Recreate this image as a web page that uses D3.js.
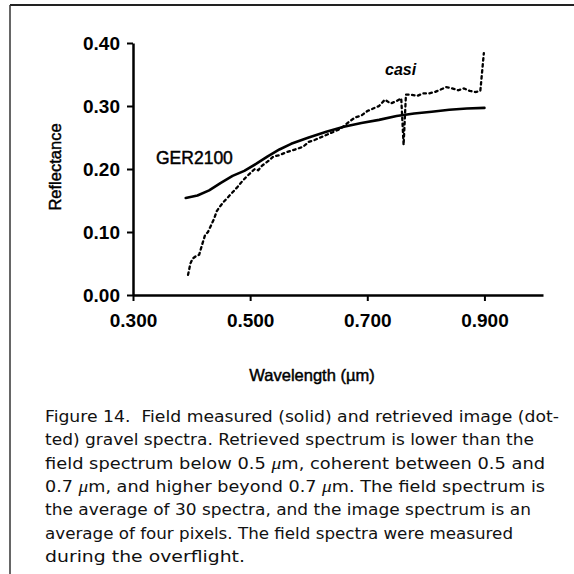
<!DOCTYPE html>
<html>
<head>
<meta charset="utf-8">
<script src="https://cdn.jsdelivr.net/npm/d3@7"></script>
<style>
  html, body { margin: 0; padding: 0; background: #fff; }
  svg { display: block; }
  text { white-space: pre; }
</style>
</head>
<body>
<svg id="chart" width="574" height="574"></svg>
<script>
// ---- Data ----
const gerWavelength = [0.390, 0.410, 0.430, 0.450, 0.470, 0.490, 0.510, 0.530, 0.550, 0.570, 0.600, 0.630, 0.660, 0.690, 0.720, 0.750, 0.780, 0.810, 0.840, 0.870, 0.900];
const gerReflectance = [0.154, 0.158, 0.166, 0.178, 0.189, 0.197, 0.208, 0.220, 0.231, 0.240, 0.250, 0.259, 0.267, 0.273, 0.278, 0.284, 0.288, 0.291, 0.294, 0.296, 0.297];

const casiWavelength = [0.394, 0.398, 0.402, 0.408, 0.413, 0.418, 0.423, 0.428, 0.433, 0.438, 0.443, 0.448, 0.455, 0.462, 0.470, 0.478, 0.486, 0.494, 0.502, 0.508, 0.514, 0.520, 0.530, 0.540, 0.550, 0.560, 0.570, 0.580, 0.590, 0.600, 0.610, 0.620, 0.630, 0.640, 0.650, 0.660, 0.670, 0.680, 0.690, 0.700, 0.710, 0.720, 0.730, 0.740, 0.750, 0.758, 0.762, 0.766, 0.775, 0.785, 0.795, 0.805, 0.815, 0.825, 0.835, 0.845, 0.855, 0.865, 0.875, 0.885, 0.893, 0.899];
const casiReflectance = [0.032, 0.050, 0.058, 0.062, 0.064, 0.080, 0.095, 0.100, 0.110, 0.120, 0.133, 0.140, 0.148, 0.155, 0.163, 0.171, 0.180, 0.188, 0.195, 0.200, 0.198, 0.205, 0.212, 0.220, 0.222, 0.226, 0.229, 0.232, 0.235, 0.243, 0.246, 0.250, 0.254, 0.258, 0.262, 0.268, 0.276, 0.282, 0.285, 0.292, 0.296, 0.300, 0.310, 0.304, 0.308, 0.312, 0.238, 0.318, 0.318, 0.316, 0.320, 0.320, 0.322, 0.326, 0.330, 0.328, 0.325, 0.328, 0.324, 0.322, 0.324, 0.384];

const xTicks = [0.3, 0.5, 0.7, 0.9];
const yTicks = [0.0, 0.1, 0.2, 0.3, 0.4];
const xDomain = [0.3, 1.0];
const yDomain = [0.0, 0.4];

const captionLines = [
  ["Figure 14.  Field measured (solid) and retrieved image (dot-"],
  ["ted) gravel spectra. Retrieved spectrum is lower than the"],
  ["field spectrum below 0.5 ", {mu: true}, "m, coherent between 0.5 and"],
  ["0.7 ", {mu: true}, "m, and higher beyond 0.7 ", {mu: true}, "m. The field spectrum is"],
  ["the average of 30 spectra, and the image spectrum is an"],
  ["average of four pixels. The field spectra were measured"],
  ["during the overflight."]
];
// typeset width of each caption line in the reference
const captionWidths = [514, 489, 500, 500, 486, 468, 200];

// ---- Drawing ----
const svg = d3.select("#chart");

// frame
svg.append("line").attr("x1", 10).attr("x2", 574).attr("y1", 5).attr("y2", 5)
  .attr("stroke", "#222").attr("stroke-width", 2);
svg.append("line").attr("x1", 10).attr("x2", 10).attr("y1", 5).attr("y2", 574)
  .attr("stroke", "#333").attr("stroke-width", 1.5);

const x = d3.scaleLinear().domain(xDomain).range([133, 543]);
const y = d3.scaleLinear().domain(yDomain).range([295, 43]);

const tickFont = "'Liberation Sans', Arial, sans-serif";

const xAxis = svg.append("g").attr("transform", "translate(0,295)")
  .call(d3.axisBottom(x).tickValues(xTicks).tickFormat(d3.format(".3f"))
    .tickSize(6).tickSizeOuter(0).tickPadding(13));
const yAxis = svg.append("g").attr("transform", "translate(133,0)")
  .call(d3.axisLeft(y).tickValues(yTicks).tickFormat(d3.format(".2f"))
    .tickSize(6).tickSizeOuter(0).tickPadding(7));

[xAxis, yAxis].forEach(g => {
  g.select(".domain").attr("stroke", "#000").attr("stroke-width", 2.5);
  g.selectAll(".tick line").attr("stroke", "#000").attr("stroke-width", 2);
  g.selectAll(".tick text").attr("fill", "#000")
    .style("font-family", tickFont).style("font-size", "19px").style("font-weight", "bold");
});

// lines
const ger = gerWavelength.map((w, i) => [w, gerReflectance[i]]);
const casi = casiWavelength.map((w, i) => [w, casiReflectance[i]]);
const line = d3.line().x(d => x(d[0])).y(d => y(d[1])).curve(d3.curveLinear);

svg.append("path").datum(ger).attr("d", line)
  .attr("fill", "none").attr("stroke", "#000").attr("stroke-width", 2.6)
  .attr("stroke-linejoin", "round").attr("stroke-linecap", "round");

svg.append("path").datum(casi).attr("d", line)
  .attr("fill", "none").attr("stroke", "#000").attr("stroke-width", 2.3)
  .attr("stroke-dasharray", "2.5,3.5").attr("stroke-linecap", "round");

// labels
function heavy(sel) { return sel.attr("stroke", "#000").attr("stroke-width", 0.45); }
heavy(svg.append("text").attr("x", 156).attr("y", 164)
  .style("font-family", tickFont).style("font-size", "17.5px").text("GER2100"));
svg.append("text").attr("x", 385).attr("y", 75)
  .style("font-family", tickFont).style("font-size", "16px")
  .style("font-weight", "bold").style("font-style", "italic").text("casi");

heavy(svg.append("text").attr("transform", "translate(61,167) rotate(-90)")
  .attr("text-anchor", "middle")
  .style("font-family", tickFont).style("font-size", "16.5px").text("Reflectance"));

heavy(svg.append("text").attr("x", 312).attr("y", 381).attr("text-anchor", "middle")
  .style("font-family", tickFont).style("font-size", "16.5px").text("Wavelength (µm)"));

// caption
const cap = svg.append("g");
captionLines.forEach((parts, i) => {
  const t = cap.append("text").attr("x", 45).attr("y", 422 + i * 23.3)
    .style("font-family", "'DejaVu Sans', sans-serif").style("font-size", "15.5px").attr("fill", "#111");
  parts.forEach(p => {
    if (typeof p === "string") t.append("tspan").text(p);
    else t.append("tspan").style("font-family", "'Liberation Serif', serif")
      .style("font-style", "italic").style("font-size", "17px").text("μ");
  });
  t.attr("textLength", captionWidths[i]).attr("lengthAdjust", "spacingAndGlyphs");
});
</script>
</body>
</html>
